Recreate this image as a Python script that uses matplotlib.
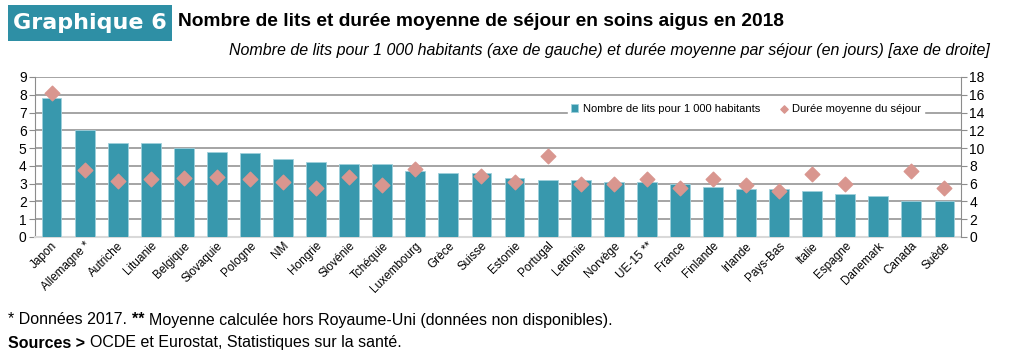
import matplotlib
matplotlib.use("Agg")
import matplotlib.pyplot as plt
from matplotlib.patches import Rectangle
import numpy as np

plt.rcParams["font.family"] = ["Liberation Sans", "DejaVu Sans"]

pays = ["Japon", "Allemagne *", "Autriche", "Lituanie", "Belgique", "Slovaquie",
        "Pologne", "NM", "Hongrie", "Slovénie", "Tchéquie", "Luxembourg", "Grèce",
        "Suisse", "Estonie", "Portugal", "Lettonie", "Norvège", "UE-15 **", "France",
        "Finlande", "Irlande", "Pays-Bas", "Italie", "Espagne", "Danemark", "Canada",
        "Suède"]
lits = [7.8, 6.0, 5.3, 5.3, 5.0, 4.8, 4.7, 4.4, 4.2, 4.1, 4.1, 3.7, 3.6, 3.6,
        3.3, 3.2, 3.2, 3.1, 3.1, 3.0, 2.8, 2.7, 2.7, 2.6, 2.4, 2.3, 2.0, 2.0]
duree = [16.2, 7.5, 6.3, 6.5, 6.6, 6.8, 6.5, 6.2, 5.5, 6.8, 5.8, 7.7, np.nan, 6.9,
         6.2, 9.1, 6.0, 6.0, 6.5, 5.5, 6.5, 5.9, 5.2, 7.1, 6.0, np.nan, 7.4, 5.5]

teal = "#3898AD"
rose = "#D9968F"
grid = "#8C8C8C"
W, H = 1021, 363

fig = plt.figure(figsize=(10.21, 3.63), dpi=100)
ax = fig.add_axes([35 / W, 126 / H, 926 / W, 160 / H])
x = np.arange(len(pays))
ax.bar(x, lits, width=0.6, color=teal, edgecolor="#9fd0dc", linewidth=0.6,
       label="Nombre de lits pour 1 000 habitants", zorder=3)
ax.set_xlim(-0.5, len(pays) - 0.5)
ax.set_ylim(0, 9)
ax.set_yticks(range(0, 10))
ax.yaxis.grid(True, color=grid, linewidth=1.1, zorder=0)
ax.set_axisbelow(True)
ax.tick_params(axis="y", labelsize=10, length=4, color=grid, pad=2)
ax.tick_params(axis="x", length=0, pad=2)
ax.set_xticks(x)
ax.set_xticklabels(pays, rotation=45, ha="right", rotation_mode="anchor", fontsize=8.5)
for s in ["top", "right"]:
    ax.spines[s].set_visible(False)
ax.spines["left"].set_color(grid)
ax.spines["bottom"].set_color("#d9d9d9")
ax.spines["bottom"].set_linewidth(1.5)

ax2 = ax.twinx()
ax2.scatter(x, duree, marker="D", s=55, color=rose, zorder=4,
            label="Durée moyenne du séjour")
ax2.set_ylim(0, 18)
ax2.set_yticks(range(0, 19, 2))
ax2.tick_params(axis="y", labelsize=10, length=4, color=grid, pad=2)
for s in ["top", "left", "bottom"]:
    ax2.spines[s].set_visible(False)
ax2.spines["right"].set_color(grid)

h1, l1 = ax.get_legend_handles_labels()
h2, l2 = ax2.get_legend_handles_labels()
leg = ax2.legend(h1 + h2, l1 + l2, loc="upper left", bbox_to_anchor=(0.57, 0.88),
                 ncol=2, frameon=True, fontsize=8, handlelength=0.7,
                 handleheight=0.7, handletextpad=0.4, columnspacing=1.8,
                 markerscale=0.5, borderpad=0.2)
leg.get_frame().set_facecolor("white")
leg.get_frame().set_edgecolor("white")
leg.get_frame().set_alpha(1)

# titre
fig.patches.append(Rectangle((8 / W, 1 - 41 / H), 164 / W, 36 / H,
                             transform=fig.transFigure, facecolor="#2E8FA5",
                             edgecolor="none"))
fig.text(90 / W, 1 - 23 / H, "Graphique 6", fontsize=16, fontweight="bold",
         color="white", va="center", ha="center", family=["DejaVu Sans"])
fig.text(178 / W, 1 - 22 / H,
         "Nombre de lits et durée moyenne de séjour en soins aigus en 2018",
         fontsize=13.8, fontweight="bold", va="center", ha="left")
fig.text(990 / W, 1 - 50 / H,
         "Nombre de lits pour 1 000 habitants (axe de gauche) et durée moyenne par séjour (en jours) [axe de droite]",
         fontsize=11.5, style="italic", va="center", ha="right")

# notes : morceaux placés bout à bout
fig.canvas.draw()
renderer = fig.canvas.get_renderer()


def ligne(y, morceaux):
    xpos = 8
    for txt, gras in morceaux:
        t = fig.text(xpos / W, 1 - y / H, txt, fontsize=11.5, va="center",
                     fontweight="bold" if gras else "normal")
        xpos += t.get_window_extent(renderer).width


ligne(320, [("* Données 2017. ", False), ("** ", True),
            ("Moyenne calculée hors Royaume-Uni (données non disponibles).", False)])
ligne(343, [("Sources > ", True), ("OCDE et Eurostat, Statistiques sur la santé.", False)])

fig.savefig("out.png", dpi=100)
